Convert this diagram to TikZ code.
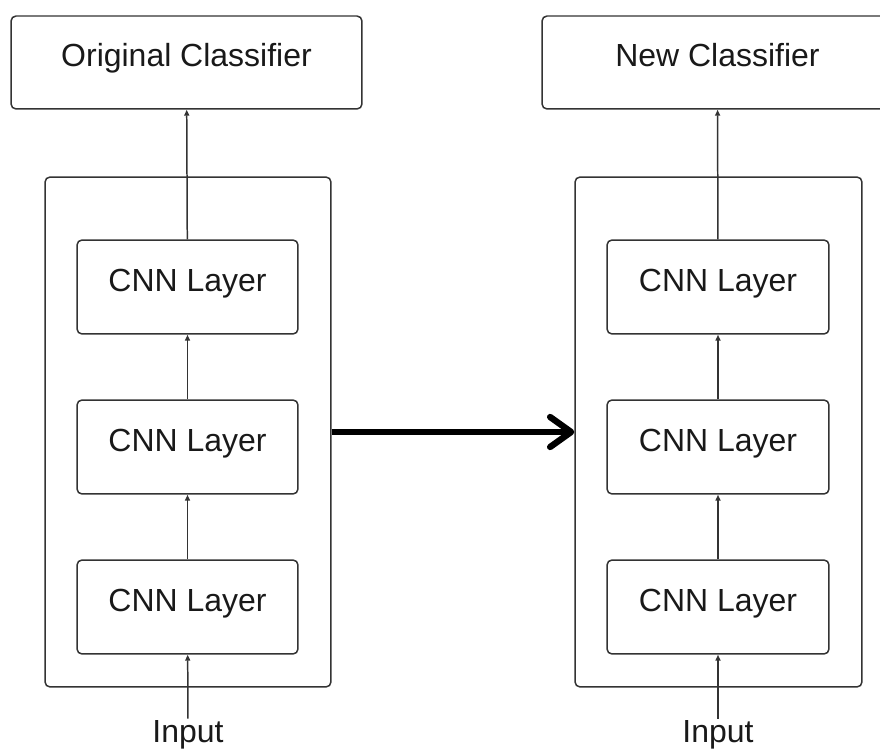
\documentclass[tikz,border=0pt]{standalone}
\usepackage{fontspec}
\setmainfont{Liberation Sans}
\usetikzlibrary{arrows.meta}

\begin{document}
\begin{tikzpicture}[x=0.02cm, y=-0.02cm,
  box/.style={draw=black!80, line width=0.85pt, rounded corners=0.1cm, inner sep=0pt,
    text height=0.72em, text depth=0.21em,
    text=black!90, font=\fontsize{18.2}{22}\selectfont},
  head/.style={box, minimum width=7.02cm, minimum height=1.86cm},
  outer/.style={box, minimum height=10.2cm},
  layer/.style={box, minimum height=1.88cm},
  label/.style={anchor=base, inner sep=0.04cm, text=black!90, font=\fontsize{18.2}{22}\selectfont},
  flow/.style={draw=black!80, line width=0.85pt, -{Triangle[length=0.12cm, width=0.1cm]}}
]
\useasboundingbox (0,0) rectangle (880,749);

% Original network
\node[head] (origcls) at (186.5,62.5) {Original Classifier};
\node[outer, minimum width=5.72cm] (orignet) at (188,432) {};
\node[layer, minimum width=4.42cm] (origA) at (187.5,287) {CNN Layer};
\node[layer, minimum width=4.42cm] (origB) at (187.5,447) {CNN Layer};
\node[layer, minimum width=4.42cm] (origC) at (187.5,607) {CNN Layer};
\node[label] (origin) at (188,743) {Input};

\draw[flow] (origin) -- (origC);
\draw[flow] (origC) -- (origB);
\draw[flow] (origB) -- (origA);
\draw[flow] (origA) -- (origcls);

% New network
\node[head] (newcls) at (717.5,62.5) {New Classifier};
\node[outer, minimum width=5.74cm] (newnet) at (718.5,432) {};
\node[layer, minimum width=4.44cm] (newA) at (718,287) {CNN Layer};
\node[layer, minimum width=4.44cm] (newB) at (718,447) {CNN Layer};
\node[layer, minimum width=4.44cm] (newC) at (718,607) {CNN Layer};
\node[label] (newin) at (718,743) {Input};

\draw[flow] (newin) -- (newC);
\draw[flow] (newC) -- (newB);
\draw[flow] (newB) -- (newA);
\draw[flow] (newA) -- (newcls);

% Transfer
\draw[line width=3.6pt, -{Straight Barb[length=0.42cm, width=0.6cm, round]}] (orignet) -- (newnet);

\end{tikzpicture}
\end{document}
